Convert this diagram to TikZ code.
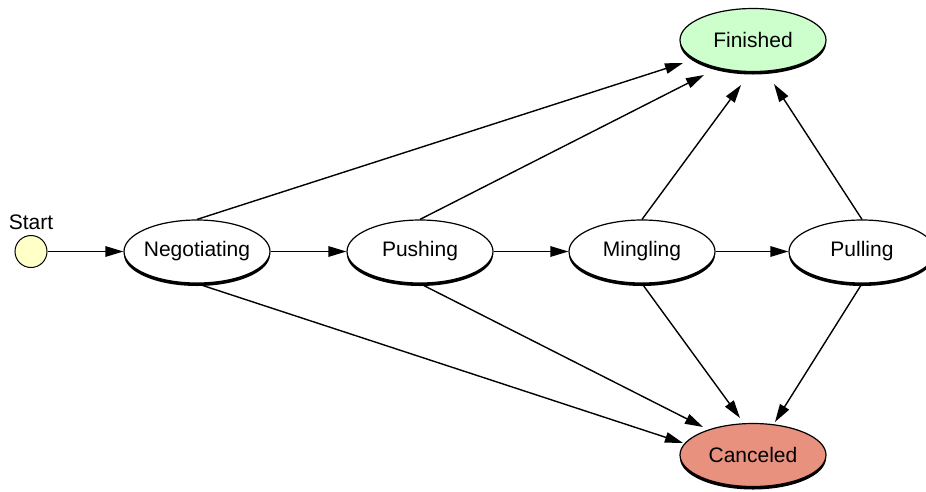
\documentclass[tikz,border=0pt]{standalone}
\usepackage{fontspec}
\setmainfont{Liberation Sans}
\usetikzlibrary{arrows.meta,shadows,backgrounds,shapes.geometric}
\definecolor{startfill}{HTML}{FFFFC8}
\definecolor{finfill}{HTML}{CCFFCC}
\definecolor{canfill}{HTML}{E8917F}
\begin{document}
\begin{tikzpicture}[x=1pt,y=-1pt,
  state/.style={ellipse, draw, line width=1.2pt, fill=white, minimum width=146pt, minimum height=63pt, inner sep=0pt, font=\fontsize{21}{25}\selectfont, drop shadow={shadow xshift=0pt, shadow yshift=-3pt, fill=black, opacity=1}},
  initial/.style={circle, draw, line width=1pt, fill=startfill, minimum size=32pt, inner sep=0pt},
  lbl/.style={font=\fontsize{21}{25}\selectfont, inner sep=0pt},
  arr/.style={line width=1.4pt, -{Triangle[length=18pt,width=10.5pt]}}]
\clip (0,0) rectangle (926,491);
\node[initial] (start) at (31,251.5) {};
\node[lbl, anchor=base] (startlabel) at (31,229) {Start};
\node[state] (neg) at (197,251.5) {\makebox[0pt]{Negotiating}};
\node[state] (push) at (420,251.5) {\makebox[0pt]{Pushing}};
\node[state] (ming) at (642,251.5) {\makebox[0pt]{Mingling}};
\node[state] (pull) at (862,251.5) {\makebox[0pt]{Pulling}};
\node[state, fill=finfill] (fin) at (753,40) {\makebox[0pt]{Finished}};
\node[state, fill=canfill] (can) at (753,455) {\makebox[0pt]{Canceled}};
\begin{scope}[on background layer]
\draw[arr] (start) -- (neg);
\draw[arr] (neg) -- (push);
\draw[arr] (push) -- (ming);
\draw[arr] (ming) -- (pull);
\draw[arr] (neg.north) -- ([shift={(-70,23)}]fin.center);
\draw[arr] (push.north) -- ([shift={(-49,35)}]fin.center);
\draw[arr] (ming.north) -- ([shift={(-12,45)}]fin.center);
\draw[arr] (pull.north) -- ([shift={(21,44)}]fin.center);
\draw[arr] (neg.south) -- ([shift={(-70,-12)}]can.center);
\draw[arr] (push.south) -- ([shift={(-50,-28)}]can.center);
\draw[arr] (ming.south) -- ([shift={(-13,-37)}]can.center);
\draw[arr] (pull.south) -- ([shift={(22,-33)}]can.center);
\end{scope}
\end{tikzpicture}
\end{document}
